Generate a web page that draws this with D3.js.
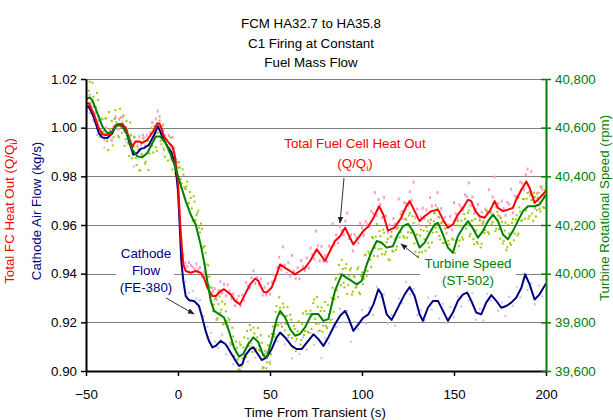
<!DOCTYPE html>
<html><head><meta charset="utf-8">
<script src="https://cdn.jsdelivr.net/npm/d3@7"></script>
<style>body{margin:0;background:#fff}svg{display:block}</style>
</head><body><svg id="c" width="613" height="420"></svg>
<script>
const titleLines = ["FCM HA32.7 to HA35.8", "C1 Firing at Constant", "Fuel Mass Flow"];
const xTicks = [-50, 0, 50, 100, 150, 200];
const leftTicks = [0.90, 0.92, 0.94, 0.96, 0.98, 1.00, 1.02];
const rightTicks = [39600, 39800, 40000, 40200, 40400, 40600, 40800];

// Smoothed Total Fuel Cell Heat Out (Q/Qi), left axis
const redT = [-50,-48.4,-45.6,-43,-41,-39.3,-36.6,-34.8,-33,-30.3,-28.4,-26.6,-24.8,-23,-21.2,-19.4,-16.7,-14.9,-13,-11.2,-9.8,-7.6,-4.9,-3.1,-1.8,-0.7,0,0.9,1.8,2.9,4.2,6.9,9.6,12.3,14.1,15.9,18.7,20.5,23.2,25,28.6,31,33.7,36.4,39.2,41.9,43.7,46.4,48.2,50.9,53.6,55.5,58.2,60.9,63.6,66.3,69,71.8,75.4,78.1,79.9,82.6,85.3,88.1,90.8,93.5,95.3,98,100.7,103.5,106.2,109.3,111.6,114.1,117.7,121.3,124.1,125.9,128.6,131.3,134,137.7,141.3,144,146.7,149.4,152.1,154.9,157.6,159.4,161.6,163.9,166.6,169.4,172.1,173.9,176.6,179.3,182,183.8,186.6,189.3,191.1,193.8,196.5,200];
const redV = [1.010,1.010,1.0053,0.9998,0.9973,0.997,0.9973,0.9998,1.0014,1.0016,0.9998,0.9957,0.9923,0.9943,0.9943,0.9937,0.995,0.997,0.9991,1.0018,1.0014,0.9963,0.9937,0.9923,0.9889,0.982,0.978,0.9643,0.9534,0.9438,0.9411,0.9404,0.9411,0.9404,0.9384,0.9343,0.9308,0.9308,0.9329,0.9336,0.9315,0.9288,0.9274,0.9315,0.9356,0.938,0.937,0.9326,0.9322,0.9343,0.9397,0.9438,0.9424,0.9411,0.9397,0.9411,0.9424,0.9452,0.950,0.9472,0.9452,0.9493,0.9534,0.9554,0.9589,0.9547,0.952,0.9547,0.9575,0.9595,0.9629,0.9677,0.9643,0.9577,0.9589,0.963,0.9677,0.9698,0.9657,0.9616,0.9636,0.9657,0.9663,0.9623,0.9589,0.9602,0.9643,0.967,0.9704,0.9698,0.9657,0.9636,0.963,0.9657,0.9698,0.967,0.9657,0.9663,0.967,0.9704,0.9745,0.9779,0.9752,0.9691,0.9711,0.9740];

// Smoothed Cathode Flow (FE-380), left axis
const blueT = [-50,-48.4,-45.6,-43,-41.1,-38.4,-35.7,-33.9,-31.2,-28.4,-26.6,-24.3,-22.1,-20.3,-18.5,-15.8,-13,-10.9,-8.5,-5.8,-3.6,-1.8,-0.7,0,0.9,1.8,2.9,4.2,6,8.7,11.4,13.2,15,16.8,18.7,20.5,23.2,25.9,28.6,31.3,33.2,35,36.4,39.2,41,42.8,45.5,48.2,50.9,53.6,55.5,58.2,61.8,64.5,67.2,70,73.6,76.3,79,81.7,85.3,88.1,90.8,92.6,95.3,98,100.7,103.5,106.2,108.9,110.7,113.4,116.1,117.7,120.4,123.2,125.9,128.6,131.3,133.1,135.8,138.6,141.3,144,146.7,149.4,152.1,154.9,157.2,159.4,162.1,164.8,167.5,170.3,173,175.7,178.4,181.1,183.8,186.6,188.7,191.1,193.8,196.5,200];
const blueV = [1.0087,1.0087,1.0039,0.9977,0.996,0.9957,0.9977,1.0009,1.0014,0.9991,0.9943,0.9889,0.9896,0.9913,0.9916,0.993,0.997,1.0005,0.9963,0.9923,0.99,0.9855,0.9793,0.9739,0.9602,0.9452,0.937,0.9308,0.9291,0.9288,0.9267,0.9219,0.9165,0.9124,0.9097,0.9103,0.9124,0.911,0.9076,0.9042,0.9021,0.9028,0.9062,0.909,0.9097,0.9076,0.9045,0.9056,0.909,0.9138,0.9158,0.9138,0.9103,0.909,0.909,0.9117,0.9151,0.9131,0.9103,0.9138,0.9192,0.9227,0.9247,0.9219,0.9165,0.9192,0.9219,0.9233,0.9274,0.9336,0.9315,0.9233,0.9210,0.9233,0.9274,0.9315,0.9345,0.9308,0.9233,0.9206,0.926,0.9288,0.9288,0.9247,0.9206,0.924,0.9288,0.9315,0.9322,0.9288,0.924,0.9233,0.9281,0.9312,0.9288,0.926,0.9267,0.9281,0.9301,0.9342,0.9397,0.9356,0.9294,0.9315,0.9360];

// Smoothed Turbine Speed (ST-502), right axis (rpm)
const greenT = [-50,-48,-46.6,-43.8,-41.1,-38.4,-35.7,-33,-30.3,-27.5,-24.8,-22.1,-19.4,-16.7,-13.9,-12.1,-9.8,-6.7,-4,-1.3,1.4,4.2,6.9,9.6,12.3,14.1,15.9,17.8,19.6,22.3,25,27.7,30.4,33.2,35.5,38.2,41,43.7,46.4,48.2,50.9,53.6,55.5,58.2,60.9,63.6,66.3,69,72.7,76.3,79,81.7,85.3,89,91.7,94.4,97.1,99.8,102.6,105.3,108,110.7,113.4,116.8,119.5,122.3,125,127.7,131.3,134,136.8,139.5,141.3,144,146.7,149.4,152.1,154.9,157.6,160.3,163,165.7,168.5,171.2,173.9,176.6,179.3,182,184.7,187.5,190.2,193.8,196.5,200];
const greenV = [40718,40724,40714,40659,40605,40577,40584,40612,40605,40571,40509,40482,40478,40496,40537,40564,40564,40537,40489,40434,40366,40298,40243,40202,40120,40052,39970,39888,39847,39834,39820,39765,39697,39659,39670,39711,39738,39718,39663,39656,39724,39813,39847,39820,39772,39745,39752,39779,39834,39834,39806,39813,39929,39997,39983,39970,39956,39970,40038,40093,40134,40127,40107,40113,40161,40195,40205,40175,40107,40127,40168,40202,40209,40161,40107,40086,40154,40189,40216,40186,40148,40175,40216,40243,40216,40161,40141,40175,40216,40257,40277,40277,40284,40325];

// Raw samples (scatter). greenDots/pinkDots: one per second from -50 s;
// greenDots2: one per second from -49.5 s; lavDots: one per 2 s from -50 s.
const rawStart = -50;
const greenDots = [
40758,40686,40789,40707,40727,40623,40743,40648,40578,40634,
40573,40638,40508,40595,40628,40561,40672,40607,40560,40642,
40612,40525,40627,40535,40621,40474,40521,40476,40542,40425,
40479,40556,40452,40524,40426,40566,40526,40606,40519,40579,
40629,40532,40588,40480,40549,40502,40559,40428,40498,40406,
40436,40436,40371,40407,40348,40378,40291,40311,40216,40296,
40240,40259,40169,40184,40111,40086,39986,39988,39913,39846,
39895,39810,39875,39840,39885,39795,39845,39784,39809,39709,
39742,39648,39695,39607,39707,39652,39738,39658,39733,39789,
39699,39778,39681,39738,39687,39747,39611,39670,39611,39706,
39631,39752,39740,39843,39787,39903,39833,39877,39767,39826,
39748,39831,39736,39786,39681,39763,39801,39727,39837,39764,
39834,39758,39848,39829,39894,39794,39864,39766,39861,39786,
39884,39776,39833,39810,39942,39895,39982,39905,39999,40057,
39962,40022,39917,39992,40022,39926,39986,39946,40026,39916,
40005,39979,40078,40011,40082,40027,40146,40106,40204,40101,
40154,40080,40168,40090,40143,40055,40172,40091,40145,40112,
40213,40170,40257,40148,40222,40170,40249,40168,40209,40090,
40161,40087,40181,40078,40142,40192,40126,40206,40128,40215,
40189,40269,40155,40207,40126,40186,40056,40135,40077,40144,
40061,40136,40216,40136,40218,40140,40225,40200,40259,40164,
40218,40121,40177,40123,40218,40123,40215,40179,40254,40164,
40254,40213,40290,40185,40239,40144,40213,40135,40210,40108,
40165,40118,40225,40165,40240,40165,40255,40220,40307,40260,
40332,40237,40302,40217,40314,40261,40333,40256,40323,40270,
40355];
const greenDots2 = [
40665,40752,40700,40785,40652,40683,40713,40563,40638,40583,
40638,40545,40664,40576,40527,40636,40622,40566,40678,40579,
40651,40553,40588,40483,40570,40497,40561,40446,40511,40424,
40490,40544,40460,40545,40493,40598,40498,40582,40504,40604,
40545,40607,40509,40552,40465,40533,40468,40518,40412,40458,
40458,40388,40429,40355,40358,40287,40336,40268,40318,40220,
40249,40189,40206,40105,40113,40038,40034,39943,39942,39873,
39902,39817,39907,39852,39792,39875,39804,39816,39716,39778,
39662,39721,39648,39717,39619,39697,39655,39765,39703,39769,
39678,39754,39692,39777,39682,39716,39615,39683,39636,39743,
39669,39783,39751,39867,39790,39860,39782,39862,39794,39862,
39749,39811,39696,39773,39732,39804,39709,39792,39748,39846,
39761,39835,39773,39879,39814,39904,39795,39846,39761,39847,
39785,39872,39799,39901,39843,39976,39931,40035,39953,40019,
39944,40039,39954,40014,39914,39993,39943,40018,39923,39990,
39957,40076,39989,40091,40057,40151,40073,40152,40072,40175,
40102,40181,40079,40129,40059,40151,40094,40190,40098,40190,
40149,40241,40155,40225,40148,40239,40168,40236,40124,40160,
40071,40156,40089,40177,40094,40174,40108,40222,40169,40249,
40171,40234,40141,40211,40126,40186,40073,40121,40038,40140,
40083,40198,40113,40197,40149,40245,40185,40249,40154,40218,
40142,40224,40130,40198,40108,40204,40167,40261,40171,40254,
40203,40289,40175,40254,40184,40228,40124,40177,40096,40201,
40126,40209,40137,40222,40157,40272,40217,40306,40226,40308,
40227,40322,40247,40333,40235,40312,40267,40357,40274,40345];
const pinkDots = [
1.0130,1.0080,1.0134,1.0088,1.0030,1.0061,1.0010,1.0028,0.9965,0.9983,
0.9951,1.0000,0.9961,0.9992,0.9950,1.0005,1.0045,0.9994,1.0035,1.0006,
1.0045,0.9984,0.9999,0.9936,0.9966,0.9917,0.9962,0.9943,0.9923,0.9963,
0.9929,0.9969,0.9924,0.9968,0.9927,0.9979,1.0021,0.9971,1.0036,1.0068,
1.0045,0.9975,1.0012,0.9967,0.9927,0.9968,0.9920,0.9961,0.9915,0.9870,
0.9800,0.9660,0.9540,0.9475,0.9444,0.9429,0.9446,0.9434,0.9427,0.9420,
0.9440,0.9417,0.9425,0.9387,0.9406,0.9394,0.9351,0.9349,0.9307,0.9328,
0.9338,0.9294,0.9330,0.9367,0.9322,0.9356,0.9310,0.9354,0.9328,0.9298,
0.9317,0.9268,0.9293,0.9308,0.9268,0.9312,0.9289,0.9364,0.9348,0.9343,
0.9383,0.9412,0.9360,0.9384,0.9355,0.9379,0.9312,0.9344,0.9312,0.9359,
0.9316,0.9365,0.9395,0.9375,0.9426,0.9467,0.9416,0.9510,0.9435,0.9400,
0.9445,0.9390,0.9475,0.9410,0.9379,0.9424,0.9379,0.9454,0.9429,0.9414,
0.9464,0.9424,0.9505,0.9478,0.9461,0.9575,0.9515,0.9453,0.9512,0.9452,
0.9475,0.9449,0.9514,0.9509,0.9605,0.9520,0.9559,0.9526,0.9594,0.9577,
0.9559,0.9616,0.9649,0.9545,0.9559,0.9494,0.9560,0.9547,0.9527,0.9607,
0.9588,0.9557,0.9614,0.9602,0.9594,0.9657,0.9647,0.9733,0.9639,0.9705,
0.9685,0.9631,0.9713,0.9637,0.9569,0.9600,0.9554,0.9627,0.9604,0.9585,
0.9707,0.9648,0.9625,0.9692,0.9687,0.9680,0.9737,0.9701,0.9776,0.9631,
0.9665,0.9600,0.9632,0.9669,0.9626,0.9662,0.9617,0.9713,0.9678,0.9650,
0.9681,0.9733,0.9631,0.9667,0.9613,0.9630,0.9567,0.9600,0.9635,0.9580,
0.9692,0.9647,0.9622,0.9682,0.9671,0.9661,0.9724,0.9717,0.9773,0.9680,
0.9715,0.9648,0.9663,0.9684,0.9625,0.9653,0.9611,0.9666,0.9655,0.9745,
0.9650,0.9715,0.9797,0.9674,0.9689,0.9634,0.9699,0.9668,0.9640,0.9693,
0.9685,0.9747,0.9650,0.9719,0.9717,0.9712,0.9777,0.9772,0.9745,0.9807,
0.9830,0.9735,0.9820,0.9717,0.9670,0.9729,0.9697,0.9756,0.9746,0.9716,0.9770];
const lavDots = [
1.0117,1.0060,1.0085,0.9970,0.9987,0.9918,0.9970,0.9945,1.0038,0.9993,
1.0025,0.9942,0.9949,0.9840,0.9927,0.9893,0.9959,0.9899,0.9975,0.9977,
1.0020,0.9916,0.9946,0.9874,0.9880,0.9779,0.9477,0.9368,0.9321,0.9329,
0.9298,0.9291,0.9225,0.9182,0.9157,0.9121,0.9095,0.9149,0.9069,0.9104,
0.9028,0.9044,0.9005,0.9082,0.9038,0.9113,0.9055,0.9102,0.9017,0.9075,
0.9039,0.9140,0.9122,0.9194,0.9110,0.9140,0.9052,0.9122,0.9070,0.9138,
0.9087,0.9156,0.9108,0.9163,0.9053,0.9136,0.9113,0.9213,0.9181,0.9256,
0.9201,0.9248,0.9120,0.9202,0.9172,0.9252,0.9196,0.9260,0.9231,0.9346,
0.9303,0.9315,0.9197,0.9231,0.9187,0.9298,0.9278,0.9366,0.9314,0.9336,
0.9230,0.9250,0.9204,0.9302,0.9252,0.9308,0.9216,0.9277,0.9197,0.9263,
0.9221,0.9306,0.9266,0.9349,0.9290,0.9320,0.9210,0.9255,0.9207,0.9317,
0.9289,0.9336,0.9247,0.9281,0.9226,0.9305,0.9268,0.9344,0.9303,0.9400,
0.9333,0.9360,0.9274,0.9351,0.9307,0.9380];

// ---------- drawing ----------
const FONT = '"Liberation Sans", Arial, Helvetica, sans-serif';
const FS = 13.33;
const P = {l: 86, r: 546, t: 79, b: 371};
const C = {red: "#ff0000", navy: "#000080", green: "#008000", pink: "#ff99cc", lav: "#c0c0ff", lime: "#99cc00", grid: "#808080"};

const x = d3.scaleLinear().domain([-50, 200]).range([P.l, P.r]);
const yL = d3.scaleLinear().domain([0.90, 1.02]).range([P.b, P.t]);
const yR = d3.scaleLinear().domain([39600, 40800]).range([P.b, P.t]);

const svg = d3.select("#c").attr("font-family", FONT);
svg.append("defs").append("clipPath").attr("id", "clip")
  .append("rect").attr("x", P.l).attr("y", P.t - 1).attr("width", P.r - P.l).attr("height", P.b - P.t + 1);
svg.select("defs").append("marker").attr("id", "arr").attr("viewBox", "0 0 10 10")
  .attr("refX", 9).attr("refY", 5).attr("markerWidth", 7).attr("markerHeight", 7)
  .attr("markerUnits", "userSpaceOnUse").attr("orient", "auto")
  .append("path").attr("d", "M0,1 L10,5 L0,9 Z").attr("fill", "#222");

// gridlines
svg.append("g").selectAll("line").data(leftTicks.slice(1)).join("line")
  .attr("x1", P.l).attr("x2", P.r)
  .attr("y1", d => Math.round(yL(d)) + 0.5).attr("y2", d => Math.round(yL(d)) + 0.5)
  .attr("stroke", C.grid).attr("stroke-width", 1);

// scatter
const plot = svg.append("g").attr("clip-path", "url(#clip)");
function dots(vals, start, step, ys, color, h) {
  plot.append("g").selectAll("rect").data(vals).join("rect")
    .attr("x", (d, i) => x(start + i * step) - 1)
    .attr("y", d => ys(d) - h / 2)
    .attr("width", 2).attr("height", h).attr("fill", color);
}
dots(lavDots, rawStart, 2, yL, C.lav, 2);
dots(pinkDots, rawStart, 1, yL, C.pink, 3);
dots(greenDots, rawStart, 1, yR, C.lime, 2);
dots(greenDots2, rawStart + 0.5, 1, yR, C.lime, 2);

// lines
function series(ts, vs, ys, color) {
  const data = ts.map((t, i) => [t, vs[i]]);
  plot.append("path").datum(data)
    .attr("d", d3.line().x(d => x(d[0])).y(d => ys(d[1])))
    .attr("fill", "none").attr("stroke", color).attr("stroke-width", 2)
    .attr("stroke-linejoin", "round");
}
series(blueT, blueV, yL, C.navy);
series(redT, redV, yL, C.red);
series(greenT, greenV, yR, C.green);

// axes
const axL = svg.append("g").attr("transform", `translate(${P.l},0)`)
  .call(d3.axisLeft(yL).tickValues(leftTicks).tickFormat(d3.format(".2f")).tickSize(5).tickSizeOuter(0).tickPadding(4));
const axB = svg.append("g").attr("transform", `translate(0,${P.b})`)
  .call(d3.axisBottom(x).tickValues(xTicks).tickSize(5).tickSizeOuter(0).tickPadding(14));
const axR = svg.append("g").attr("transform", `translate(${P.r},0)`)
  .call(d3.axisRight(yR).tickValues(rightTicks).tickFormat(d3.format(",")).tickSize(5).tickSizeOuter(0).tickPadding(4));
[axL, axB, axR].forEach(a => {
  a.selectAll("text").attr("font-size", FS).attr("font-family", FONT);
  a.select(".domain").attr("stroke-width", 2);
  a.selectAll(".tick line").attr("stroke-width", 1.5);
});
axL.selectAll("text").attr("fill", "#000");
axB.selectAll("text").attr("fill", "#000");
axR.select(".domain").attr("stroke", C.green);
axR.selectAll(".tick line").attr("stroke", C.green).attr("x1", -5);
axR.selectAll("text").attr("fill", C.green);
axL.select(".domain").attr("stroke", "#000");
axB.select(".domain").attr("stroke", "#000");

// title
svg.append("g").selectAll("text").data(titleLines).join("text")
  .attr("x", 311).attr("y", (d, i) => 28 + i * 19.5)
  .attr("text-anchor", "middle").attr("font-size", FS).attr("fill", "#000").text(d => d);

// axis titles
svg.append("text").attr("x", 315).attr("y", 417).attr("text-anchor", "middle")
  .attr("font-size", FS).attr("fill", "#000").text("Time From Transient (s)");
const tL1 = svg.append("text").attr("transform", "translate(14,211) rotate(-90)")
  .attr("text-anchor", "middle").attr("font-size", FS).attr("fill", C.red);
tL1.append("tspan").text("Total FC Heat Out (Q/Q");
tL1.append("tspan").attr("font-size", 9).attr("dy", 3).text("i");
tL1.append("tspan").attr("dy", -3).text(")");
svg.append("text").attr("transform", "translate(41,211) rotate(-90)")
  .attr("text-anchor", "middle").attr("font-size", FS).attr("fill", C.navy).text("Cathode Air Flow (kg/s)");
svg.append("text").attr("transform", "translate(609,208) rotate(-90)")
  .attr("text-anchor", "middle").attr("font-size", FS).attr("fill", C.green).text("Turbine Rotational Speed (rpm)");

// annotations: white label boxes, text and arrows
function box(x0, y0, w, h) {
  svg.append("rect").attr("x", x0).attr("y", y0).attr("width", w).attr("height", h).attr("fill", "#fff");
}
function arrow(x1, y1, x2, y2) {
  svg.append("line").attr("x1", x1).attr("y1", y1).attr("x2", x2).attr("y2", y2)
    .attr("stroke", "#333").attr("stroke-width", 1).attr("marker-end", "url(#arr)");
}
box(116, 243, 58, 54);
box(420, 254, 96, 36);
box(280, 134, 150, 38);

const cath = ["Cathode", "Flow", "(FE-380)"];
svg.append("g").selectAll("text").data(cath).join("text")
  .attr("x", 146).attr("y", (d, i) => 258 + i * 17)
  .attr("text-anchor", "middle").attr("font-size", FS).attr("fill", C.navy).text(d => d);
const turb = ["Turbine Speed", "(ST-502)"];
svg.append("g").selectAll("text").data(turb).join("text")
  .attr("x", 468).attr("y", (d, i) => 268 + i * 17)
  .attr("text-anchor", "middle").attr("font-size", FS).attr("fill", C.green).text(d => d);
svg.append("text").attr("x", 355).attr("y", 148).attr("text-anchor", "middle")
  .attr("font-size", FS).attr("fill", C.red).text("Total Fuel Cell Heat Out");
const q = svg.append("text").attr("x", 355).attr("y", 168).attr("text-anchor", "middle")
  .attr("font-size", FS).attr("fill", C.red);
q.append("tspan").text("(Q/Q");
q.append("tspan").attr("font-size", 9).attr("dy", 3).text("i");
q.append("tspan").attr("dy", -3).text(")");

arrow(166, 298, 194, 314);
arrow(344, 178, 340, 223);
arrow(419, 258, 401, 244);
</script></body></html>
